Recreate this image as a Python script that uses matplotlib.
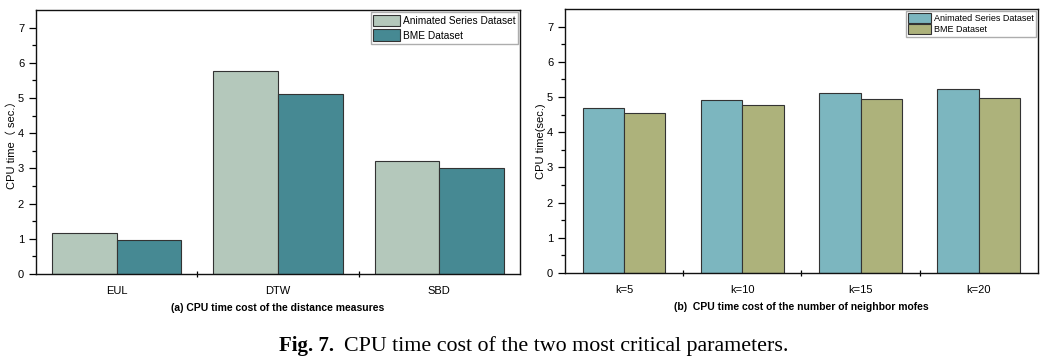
import matplotlib
matplotlib.use("Agg")
import matplotlib.pyplot as plt
import numpy as np

plt.rcParams["font.family"] = ["Liberation Sans", "Noto Sans CJK SC", "DejaVu Sans"]

# panel (a): distance measures
MEASURES = ["EUL", "DTW", "SBD"]
ANIM_A = [1.15, 5.76, 3.22]
BME_A = [0.97, 5.11, 3.02]

# panel (b): number of neighbor motifs
KS = ["k=5", "k=10", "k=15", "k=20"]
ANIM_B = [4.70, 4.91, 5.10, 5.22]
BME_B = [4.54, 4.78, 4.95, 4.98]

LABELS = ["Animated Series Dataset", "BME Dataset"]
COLORS_A = ["#b4c8bb", "#468993"]
COLORS_B = ["#7cb6bf", "#adb27b"]
EDGE = "#333333"


def draw_panel(ax, cats, s1, s2, colors, width, ylabel, subtitle, legend_fs, legend_sp):
    x = np.arange(len(cats))
    ax.bar(x - width / 2, s1, width, color=colors[0], edgecolor=EDGE, linewidth=0.8,
           label=LABELS[0])
    ax.bar(x + width / 2, s2, width, color=colors[1], edgecolor=EDGE, linewidth=0.8,
           label=LABELS[1])
    ax.set_xlim(-0.5, len(cats) - 0.5)
    ax.set_ylim(0, 7.5)
    ax.set_yticks(range(0, 8))
    ax.set_yticks(np.arange(0.5, 7.5, 1.0), minor=True)
    ax.set_xticks(x)
    ax.set_xticklabels(cats, fontsize=8)
    ax.set_xticks(np.arange(0.5, len(cats) - 0.5, 1.0), minor=True)
    ax.tick_params(axis="x", which="major", length=0, pad=9)
    ax.tick_params(axis="x", which="minor", direction="inout", length=5, width=0.9)
    ax.tick_params(axis="y", which="major", direction="out", length=5, width=0.9, labelsize=8)
    ax.tick_params(axis="y", which="minor", direction="out", length=3, width=0.9)
    for sp in ax.spines.values():
        sp.set_linewidth(1.0)
        sp.set_color("#111111")
    ax.set_ylabel(ylabel, fontsize=8, labelpad=1)
    ax.set_xlabel(subtitle, fontsize=7.5, fontweight="bold", labelpad=5)
    leg = ax.legend(loc="upper right", fontsize=legend_fs, frameon=True, fancybox=False,
                    handlelength=2.6, handleheight=1.4, handletextpad=0.3,
                    labelspacing=legend_sp, borderpad=0.25, borderaxespad=0.2,
                    edgecolor="#999999")
    leg.get_frame().set_linewidth(1.0)
    for h in leg.legend_handles:
        h.set_edgecolor(EDGE)


fig = plt.figure(figsize=(10.58, 3.6), dpi=100)
ax1 = fig.add_axes([0.034, 0.239, 0.4575, 0.733])
ax2 = fig.add_axes([0.534, 0.242, 0.447, 0.733])

draw_panel(ax1, MEASURES, ANIM_A, BME_A, COLORS_A, 0.4, "CPU time（ sec.）",
           "(a) CPU time cost of the distance measures", 7.3, 0.3)
draw_panel(ax2, KS, ANIM_B, BME_B, COLORS_B, 0.35, "CPU time(sec.)",
           "(b)  CPU time cost of the number of neighbor mofes", 6.5, 0.05)

serif = ["Liberation Serif", "DejaVu Serif"]
fig.text(0.325, 0.039, "CPU time cost of the two most critical parameters.",
         ha="left", va="center", fontsize=15.8, family=serif)
fig.text(0.316, 0.039, "Fig. 7.", ha="right", va="center", fontsize=15, fontweight="bold",
         family=serif)

fig.savefig("out.png", dpi=100)
